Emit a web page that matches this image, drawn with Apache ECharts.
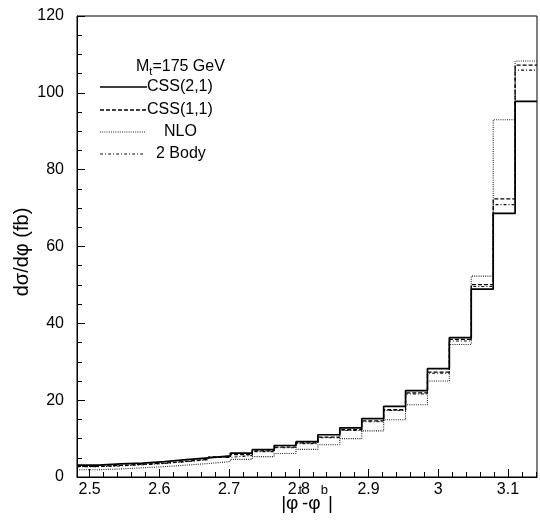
<!DOCTYPE html>
<html>
<head>
<meta charset="utf-8">
<script src="https://cdn.jsdelivr.net/npm/echarts@6/dist/echarts.min.js"></script>
<style>
  html, body { margin: 0; padding: 0; background: #fff; }
  #chart { width: 540px; height: 521px; }
</style>
</head>
<body>
<div id="chart"></div>
<script>
// Bin edges of |phi_t - phi_b| (bins of width pi/100, from 0.79 pi up to pi)
const binEdges = [2.4819, 2.5133, 2.5447, 2.5761, 2.6075, 2.6389, 2.6704, 2.7018,
  2.7332, 2.7646, 2.7960, 2.8274, 2.8588, 2.8903, 2.9217, 2.9531, 2.9845,
  3.0159, 3.0473, 3.0788, 3.1102, 3.1416];

// d sigma / d phi (fb) per bin
const css21 = [3.1, 3.4, 3.6, 4.0, 4.5, 5.0, 5.5, 6.2, 7.1, 8.2, 9.2, 11.0, 12.8,
  15.2, 18.4, 22.5, 28.2, 36.3, 48.9, 68.6, 97.8];
const css11 = [2.8, 3.0, 3.3, 3.6, 4.1, 4.6, 5.2, 5.8, 6.8, 7.8, 8.9, 10.4, 12.3,
  14.6, 17.5, 21.9, 27.3, 35.8, 50.1, 72.4, 107.2];
const nlo = [1.9, 2.1, 2.4, 2.7, 3.1, 3.5, 4.0, 4.6, 5.3, 6.1, 7.2, 8.4, 10.0,
  12.0, 14.9, 18.8, 25.0, 34.5, 52.3, 93.0, 108.3];
const twoBody = [2.7, 2.9, 3.2, 3.5, 4.0, 4.5, 5.1, 5.6, 6.6, 7.6, 8.7, 10.2, 12.1,
  14.4, 17.3, 21.6, 27.0, 35.4, 49.6, 70.9, 105.9];

// Axis ticks
const xMajorTicks = [2.5, 2.6, 2.7, 2.8, 2.9, 3.0, 3.1];
const xMinorTicks = [2.52, 2.54, 2.56, 2.58, 2.62, 2.64, 2.66, 2.68, 2.72, 2.74,
  2.76, 2.78, 2.82, 2.84, 2.86, 2.88, 2.92, 2.94, 2.96, 2.98, 3.02, 3.04, 3.06,
  3.08, 3.12, 3.14];
const yMin = 0, yMax = 120, yStep = 20;

const FONT = 'Liberation Sans, Arial, Helvetica, sans-serif';

// Histogram outline: each bin value starts at its left edge, last value repeated at the right edge
function histPoints(values) {
  const pts = values.map((v, i) => [binEdges[i], v]);
  pts.push([binEdges[binEdges.length - 1], values[values.length - 1]]);
  return pts;
}

const styles = {
  solid:   { color: '#000', width: 1.7, type: 'solid' },
  dashed:  { color: '#000', width: 1.3, type: [4, 2] },
  dotted:  { color: '#222', width: 1.1, type: [1, 1.2] },
  dashdot: { color: '#111', width: 1.1, type: [3, 2, 1, 2] }
};

function histSeries(name, values, ls, z) {
  return {
    name: name,
    type: 'line',
    step: 'end',
    symbol: 'none',
    xAxisIndex: 0,
    yAxisIndex: 0,
    z: z,
    lineStyle: ls,
    data: histPoints(values)
  };
}

// Text width helper for laying out sub/superscript pieces
const measureCtx = document.createElement('canvas').getContext('2d');
function textWidth(str, size) {
  measureCtx.font = size + 'px ' + FONT;
  return measureCtx.measureText(str).width;
}
// Lay out a run of text pieces left to right; each piece has its own top offset
function textRun(pieces, x0, top) {
  const out = [];
  let x = x0;
  pieces.forEach(p => {
    out.push({
      type: 'text', x: x, y: top + (p.dy || 0),
      style: { text: p.t, fontSize: p.size, fontFamily: FONT, fill: '#000',
               align: 'left', verticalAlign: 'top' }
    });
    x += textWidth(p.t, p.size);
  });
  return out;
}
function runWidth(pieces) {
  return pieces.reduce((s, p) => s + textWidth(p.t, p.size), 0);
}

const graphics = [];

// Key drawn in the upper-left corner of the plot
const massPieces = [
  { t: 'M', size: 16 }, { t: 't', size: 11, dy: 7 }, { t: '=175 GeV', size: 16 }
];
graphics.push(...textRun(massPieces, 136, 59));

const keyRows = [
  { label: 'CSS(2,1)', ls: styles.solid, y: 87, x1: 100, x2: 147, tx: 147 },
  { label: 'CSS(1,1)', ls: styles.dashed, y: 110, x1: 100, x2: 147, tx: 147 },
  { label: 'NLO', ls: styles.dotted, y: 132, x1: 100, x2: 145, tx: 164 },
  { label: '2 Body', ls: styles.dashdot, y: 154, x1: 100, x2: 143, tx: 156 }
];
keyRows.forEach(r => {
  graphics.push({
    type: 'line',
    shape: { x1: r.x1, y1: r.y, x2: r.x2, y2: r.y },
    style: { stroke: r.ls.color, lineWidth: r.ls.width, lineDash: r.ls.type === 'solid' ? null : r.ls.type }
  });
  graphics.push({
    type: 'text', x: r.tx, y: r.y,
    style: { text: r.label, fontSize: 16, fontFamily: FONT, fill: '#000', verticalAlign: 'middle', align: 'left' }
  });
});

// x-axis title |phi^t - phi^b|
const xTitlePieces = [
  { t: '|φ', size: 19 }, { t: 't', size: 13, dy: -10 },
  { t: '-φ', size: 19 }, { t: 'b', size: 13, dy: -10 }, { t: '|', size: 19 }
];
graphics.push(...textRun(xTitlePieces, 307 - runWidth(xTitlePieces) / 2, 494));

// y-axis title, rotated
graphics.push({
  type: 'text', x: 22, y: 252, rotation: Math.PI / 2,
  style: { text: 'dσ/dφ (fb)', fontSize: 20, fontFamily: FONT, fill: '#000',
           align: 'center', verticalAlign: 'middle' }
});

const chart = echarts.init(document.getElementById('chart'), null, { renderer: 'canvas' });
chart.setOption({
  animation: false,
  backgroundColor: '#fff',
  grid: {
    left: 77, right: 3, top: 16, bottom: 44,
    show: true, borderColor: '#000', borderWidth: 1, backgroundColor: 'transparent'
  },
  xAxis: [
    {
      type: 'value',
      min: binEdges[0],
      max: binEdges[binEdges.length - 1],
      axisLine: { show: true, lineStyle: { color: '#000', width: 1 } },
      axisTick: { show: true, inside: true, length: 8, customValues: xMajorTicks, lineStyle: { color: '#000' } },
      axisLabel: {
        show: true, customValues: xMajorTicks, margin: 5,
        fontSize: 16, fontFamily: FONT, color: '#000',
        formatter: v => String(Math.round(v * 10) / 10)
      },
      splitLine: { show: false }
    },
    {
      type: 'value',
      position: 'bottom',
      min: binEdges[0],
      max: binEdges[binEdges.length - 1],
      axisLine: { show: false },
      axisTick: { show: true, inside: true, length: 5, customValues: xMinorTicks, lineStyle: { color: '#000' } },
      axisLabel: { show: false },
      splitLine: { show: false }
    }
  ],
  yAxis: {
    type: 'value',
    min: yMin, max: yMax, interval: yStep,
    axisLine: { show: true, lineStyle: { color: '#000', width: 1 } },
    axisTick: { show: true, inside: true, length: 8, lineStyle: { color: '#000' } },
    minorTick: { show: true, splitNumber: 4, length: 5, lineStyle: { color: '#000' } },
    axisLabel: { margin: 13, fontSize: 16, fontFamily: FONT, color: '#000' },
    splitLine: { show: false }
  },
  series: [
    histSeries('NLO', nlo, styles.dotted, 2),
    histSeries('2 Body', twoBody, styles.dashdot, 3),
    histSeries('CSS(1,1)', css11, styles.dashed, 4),
    histSeries('CSS(2,1)', css21, styles.solid, 5)
  ],
  graphic: graphics
});
</script>
</body>
</html>
